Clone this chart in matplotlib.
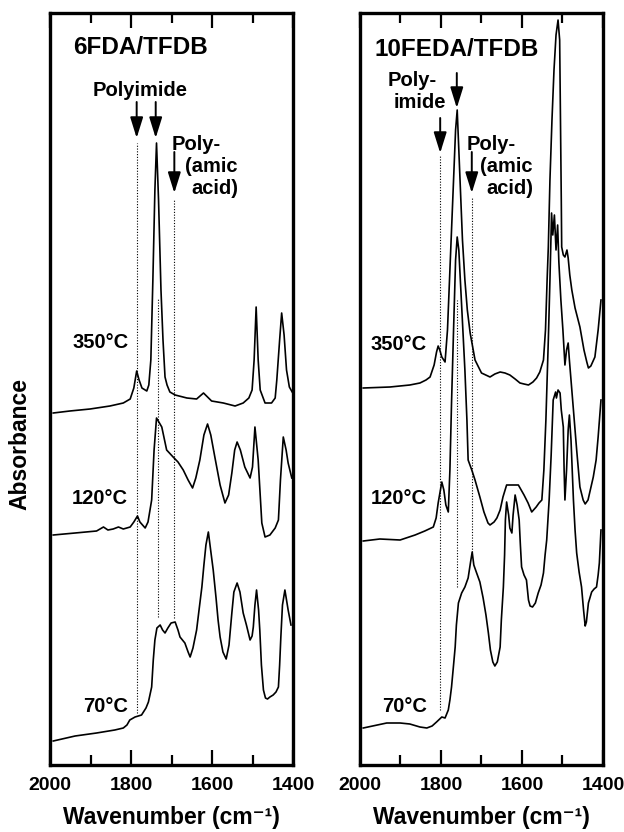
import matplotlib
matplotlib.use("Agg")
import matplotlib.pyplot as plt
from matplotlib.ticker import FixedLocator

plt.rcParams['font.family'] = ['Liberation Sans', 'DejaVu Sans']
plt.rcParams['font.weight'] = 'bold'

# ---------------- data (wavenumber cm-1, absorbance a.u.) ----------------
panel_titles = ["6FDA/TFDB", "10FEDA/TFDB"]
temp_labels = ["350\u00b0C", "120\u00b0C", "70\u00b0C"]

L350 = [(1992,3.52),(1951,3.54),(1901,3.56),(1852,3.59),(1819,3.62),(1802,3.66),(1793,3.77),
        (1786,3.94),(1780,3.85),(1773,3.77),(1761,3.74),(1756,3.80),(1751,4.05),(1746,4.85),
        (1741,5.75),(1737,6.22),(1732,5.65),(1726,4.75),(1721,4.25),(1716,3.88),(1711,3.80),
        (1704,3.73),(1691,3.70),(1662,3.67),(1638,3.66),(1621,3.72),(1601,3.64),(1572,3.62),
        (1543,3.59),(1523,3.62),(1509,3.67),(1501,3.75),(1496,4.05),(1491,4.58),(1486,4.05),
        (1481,3.75),(1469,3.62),(1453,3.62),(1444,3.67),(1440,3.85),(1433,4.25),(1428,4.52),
        (1422,4.30),(1416,3.95),(1409,3.78),(1402,3.73)]
L120 = [(1992,2.30),(1938,2.32),(1885,2.34),(1868,2.38),(1857,2.35),(1844,2.36),(1831,2.38),
        (1819,2.36),(1802,2.38),(1793,2.43),(1784,2.49),(1778,2.43),(1765,2.37),(1758,2.43),
        (1749,2.65),(1743,3.15),(1737,3.47),(1724,3.38),(1712,3.15),(1696,3.08),(1684,3.03),
        (1671,2.95),(1659,2.85),(1648,2.77),(1640,2.87),(1630,3.05),(1620,3.30),(1611,3.41),
        (1603,3.30),(1593,3.08),(1580,2.80),(1568,2.62),(1559,2.70),(1551,2.92),(1544,3.15),
        (1538,3.23),(1530,3.15),(1519,2.98),(1506,2.87),(1500,2.98),(1494,3.38),(1486,3.05),
        (1477,2.42),(1469,2.28),(1457,2.30),(1444,2.37),(1436,2.45),(1431,2.85),(1424,3.28),
        (1417,3.15),(1412,3.02),(1403,2.87)]
L70 = [(1992,0.24),(1938,0.29),(1885,0.32),(1840,0.35),(1819,0.37),(1810,0.40),(1803,0.45),
       (1790,0.48),(1774,0.50),(1763,0.57),(1757,0.63),(1749,0.78),(1745,1.05),(1741,1.25),
       (1736,1.37),(1728,1.40),(1722,1.35),(1716,1.32),(1709,1.37),(1701,1.42),(1691,1.43),
       (1684,1.35),(1679,1.28),(1667,1.22),(1659,1.13),(1654,1.08),(1647,1.17),(1638,1.35),
       (1632,1.55),(1625,1.78),(1620,2.00),(1615,2.20),(1609,2.33),(1604,2.17),(1597,1.95),
       (1590,1.67),(1585,1.45),(1580,1.28),(1573,1.13),(1565,1.06),(1558,1.20),(1551,1.52),
       (1546,1.73),(1538,1.82),(1531,1.73),(1523,1.52),(1515,1.40),(1506,1.25),(1501,1.29),
       (1498,1.38),(1494,1.60),(1490,1.75),(1485,1.55),(1482,1.35),(1478,1.00),(1473,0.75),
       (1468,0.67),(1463,0.66),(1457,0.68),(1449,0.70),(1442,0.73),(1436,0.78),(1433,1.00),
       (1430,1.28),(1426,1.60),(1420,1.75),(1416,1.65),(1412,1.55),(1405,1.40)]

R350 = [(1992,3.77),(1926,3.78),(1877,3.80),(1852,3.82),(1837,3.85),(1827,3.88),(1817,4.00),
        (1811,4.13),(1807,4.19),(1803,4.15),(1798,4.08),(1790,4.03),(1784,4.35),(1778,4.95),
        (1770,5.75),(1764,6.35),(1760,6.55),(1756,6.15),(1753,5.85),(1747,5.25),(1741,4.85),
        (1735,4.55),(1728,4.32),(1716,4.05),(1700,3.92),(1679,3.88),(1667,3.91),(1654,3.93),
        (1642,3.92),(1630,3.90),(1617,3.86),(1605,3.82),(1595,3.81),(1584,3.80),(1573,3.83),
        (1564,3.87),(1556,3.93),(1547,4.05),(1542,4.35),(1538,4.85),(1535,5.18),(1531,5.85),
        (1526,6.45),(1521,6.95),(1516,7.30),(1511,7.45),(1507,7.25),(1505,6.45),(1503,5.65),
        (1502,5.18),(1498,5.10),(1494,5.08),(1489,5.15),(1486,5.07),(1482,4.90),(1477,4.75),
        (1469,4.57),(1457,4.38),(1447,4.15),(1440,4.03),(1436,3.97),(1430,3.99),(1420,4.08),
        (1412,4.35),(1405,4.65)]
R120 = [(1992,2.24),(1951,2.26),(1901,2.25),(1864,2.30),(1840,2.34),(1819,2.38),(1812,2.47),
        (1807,2.62),(1798,2.83),(1793,2.75),(1788,2.60),(1782,2.53),(1778,2.95),(1774,3.62),
        (1769,4.35),(1764,5.05),(1760,5.28),(1756,5.15),(1751,4.75),(1746,4.35),(1741,3.95),
        (1736,3.45),(1733,3.05),(1724,2.95),(1716,2.85),(1704,2.68),(1694,2.53),(1684,2.42),
        (1679,2.40),(1669,2.43),(1662,2.47),(1654,2.55),(1647,2.68),(1638,2.80),(1625,2.80),
        (1609,2.80),(1595,2.70),(1585,2.62),(1576,2.53),(1565,2.58),(1558,2.62),(1551,2.65),
        (1546,2.95),(1541,3.45),(1535,4.25),(1531,4.85),(1527,5.52),(1524,5.30),(1520,5.50),
        (1516,5.15),(1512,5.40),(1509,5.03),(1504,4.65),(1499,4.35),(1494,4.00),(1490,4.15),
        (1486,4.22),(1483,4.05),(1479,3.85),(1473,3.55),(1465,3.15),(1457,2.78),(1449,2.65),
        (1444,2.61),(1437,2.65),(1424,2.88),(1417,3.05),(1412,3.28),(1405,3.65)]
R70 = [(1992,0.37),(1934,0.42),(1901,0.42),(1877,0.41),(1852,0.38),(1835,0.37),(1822,0.39),
       (1811,0.43),(1798,0.48),(1790,0.47),(1782,0.55),(1778,0.65),(1774,0.78),(1769,1.00),
       (1765,1.18),(1762,1.40),(1757,1.62),(1749,1.72),(1741,1.78),(1733,1.87),(1727,2.03),
       (1723,2.13),(1719,2.00),(1712,1.92),(1704,1.83),(1696,1.67),(1689,1.50),(1683,1.32),
       (1678,1.15),(1672,1.03),(1667,0.99),(1661,1.03),(1654,1.18),(1651,1.45),(1646,1.78),
       (1643,2.10),(1641,2.45),(1638,2.63),(1633,2.50),(1630,2.37),(1625,2.32),(1622,2.50),
       (1617,2.70),(1612,2.60),(1607,2.45),(1604,2.20),(1601,1.98),(1595,1.90),(1589,1.85),
       (1584,1.65),(1580,1.59),(1574,1.58),(1567,1.62),(1560,1.72),(1553,1.80),(1547,1.92),
       (1543,2.10),(1539,2.25),(1533,2.65),(1528,3.10),(1523,3.65),(1517,3.73),(1515,3.67),
       (1511,3.75),(1506,3.72),(1503,3.55),(1498,3.38),(1496,2.95),(1494,2.65),(1490,2.95),
       (1486,3.35),(1483,3.50),(1479,3.25),(1473,2.65),(1469,2.35),(1465,2.12),(1459,1.93),
       (1453,1.78),(1448,1.55),(1444,1.39),(1441,1.43),(1436,1.62),(1428,1.73),(1422,1.76),
       (1416,1.78),(1412,1.90),(1409,2.02),(1405,2.35)]

# marker band positions (cm-1) and their vertical extents (absorbance)
L_bands = [(1786, 0.52, 6.22), (1734, 1.48, 4.67), (1693, 1.47, 5.65)]
R_bands = [(1802, 0.55, 6.10), (1761, 1.78, 4.65), (1724, 2.13, 5.67)]

xticks_major = [2000, 1800, 1600, 1400]
xticks_minor = [1900, 1700, 1500]

# ---------------- figure ----------------
fig = plt.figure(figsize=(6.24, 8.32), dpi=100)
axL = fig.add_axes([50/624, 1-765/832, 243/624, 752/832])
axR = fig.add_axes([360/624, 1-765/832, 243/624, 752/832])

def style(ax):
    ax.set_xlim(2000, 1400)
    ax.set_ylim(0, 7.52)
    ax.set_yticks([])
    ax.xaxis.set_major_locator(FixedLocator(xticks_major))
    ax.xaxis.set_minor_locator(FixedLocator(xticks_minor))
    ax.set_xticklabels([str(v) for v in xticks_major], fontsize=14, fontweight='bold')
    ax.tick_params(axis='x', which='major', direction='in', length=11, width=1.6,
                   top=True, pad=9)
    ax.tick_params(axis='x', which='minor', direction='in', length=7, width=1.6, top=True)
    for s in ax.spines.values():
        s.set_linewidth(2.4)
    ax.set_xlabel("Wavenumber (cm\u207b\u00b9)", fontsize=16.5, fontweight='bold',
                  labelpad=8)

def plot_curves(ax, curves):
    for c in curves:
        xs = [p[0] for p in c]
        ys = [p[1] for p in c]
        ax.plot(xs, ys, color='black', lw=1.2, solid_joinstyle='round')

def bands(ax, blist):
    for wn, y0, y1 in blist:
        ax.plot([wn, wn], [y0, y1], color='black', lw=0.8, ls=(0, (1, 1.5)))

def arrow(ax, wn, ytail, ytip):
    ax.annotate('', xy=(wn, ytip), xytext=(wn, ytail),
                arrowprops=dict(arrowstyle='-|>,head_width=0.28,head_length=0.9',
                                color='black', lw=1.4, mutation_scale=14,
                                shrinkA=0, shrinkB=0))

for ax in (axL, axR):
    style(ax)

FS_T = 17.5
FS_A = 14.5
FS_C = 14.5

# left panel
bands(axL, L_bands)
plot_curves(axL, [L350, L120, L70])
axL.text(1943, 7.17, panel_titles[0], fontsize=FS_T, fontweight='bold', ha='left', va='center')
axL.text(1778, 6.75, "Polyimide", fontsize=FS_A, fontweight='bold', ha='center', va='center')
arrow(axL, 1786, 6.63, 6.27)
arrow(axL, 1739, 6.63, 6.27)
axL.text(1700, 6.20, "Poly-", fontsize=FS_A, fontweight='bold', ha='left', va='center')
axL.text(1536, 5.98, "(amic", fontsize=FS_A, fontweight='bold', ha='right', va='center')
axL.text(1536, 5.77, "acid)", fontsize=FS_A, fontweight='bold', ha='right', va='center')
arrow(axL, 1693, 6.13, 5.72)
for lab, yy in zip(temp_labels, [4.22, 2.67, 0.59]):
    axL.text(1807, yy, lab, fontsize=FS_C, fontweight='bold', ha='right', va='center')

# right panel
bands(axR, R_bands)
plot_curves(axR, [R350, R120, R70])
axR.text(1963, 7.15, panel_titles[1], fontsize=FS_T, fontweight='bold', ha='left', va='center')
axR.text(1931, 6.85, "Poly-", fontsize=FS_A, fontweight='bold', ha='left', va='center')
axR.text(1918, 6.63, "imide", fontsize=FS_A, fontweight='bold', ha='left', va='center')
arrow(axR, 1761, 6.92, 6.57)
arrow(axR, 1802, 6.47, 6.12)
axR.text(1736, 6.20, "Poly-", fontsize=FS_A, fontweight='bold', ha='left', va='center')
axR.text(1573, 5.98, "(amic", fontsize=FS_A, fontweight='bold', ha='right', va='center')
axR.text(1573, 5.77, "acid)", fontsize=FS_A, fontweight='bold', ha='right', va='center')
arrow(axR, 1724, 6.13, 5.72)
for lab, yy in zip(temp_labels, [4.20, 2.67, 0.58]):
    axR.text(1835, yy, lab, fontsize=FS_C, fontweight='bold', ha='right', va='center')

fig.text(20/624, 1-444/832, "Absorbance", rotation=90, fontsize=16.5, fontweight='bold',
         ha='center', va='center')

fig.savefig("out.png", dpi=100)
